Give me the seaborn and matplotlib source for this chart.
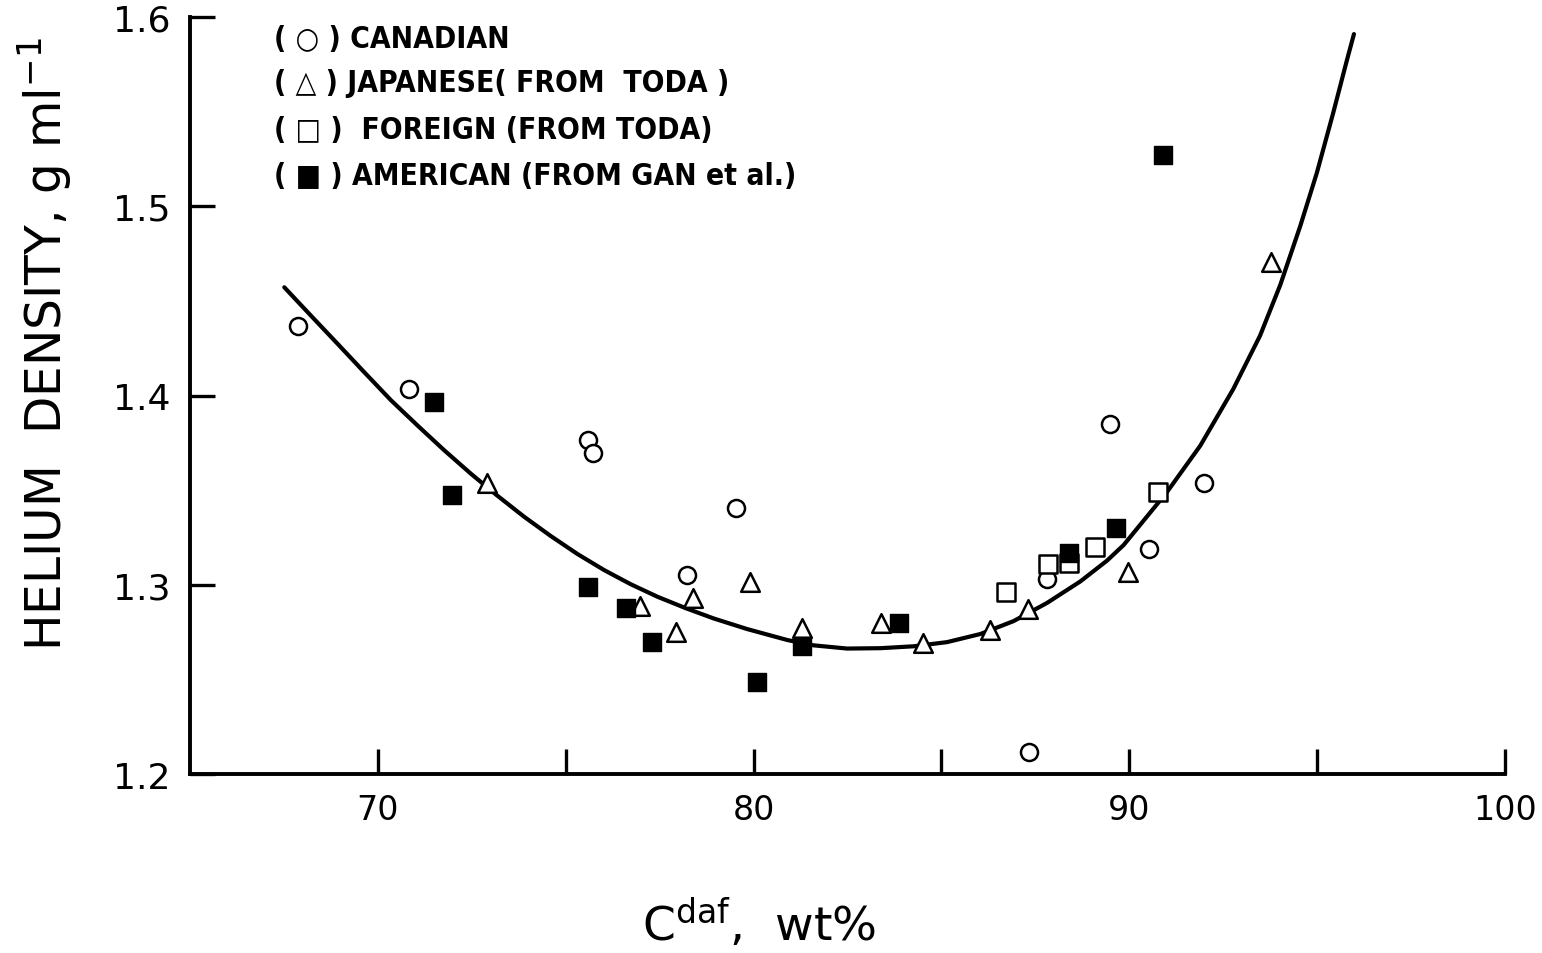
import matplotlib
matplotlib.use("Agg")
import matplotlib.pyplot as plt
import seaborn as sns

# ---- data ----
canadian_x = [67.87, 70.82, 75.60, 75.74, 78.24, 79.52, 87.34, 87.82, 89.50, 90.53, 92.00]
canadian_y = [1.437, 1.4035, 1.3767, 1.3694, 1.3052, 1.3406, 1.2117, 1.303, 1.385, 1.319, 1.354]

japanese_x = [72.90, 76.97, 77.93, 78.38, 79.90, 81.30, 83.38, 84.52, 86.30, 87.31, 89.97, 93.78]
japanese_y = [1.354, 1.289, 1.2748, 1.293, 1.3015, 1.2774, 1.280, 1.269, 1.276, 1.287, 1.307, 1.4706]

foreign_x = [86.73, 87.85, 88.40, 89.10, 90.77]
foreign_y = [1.296, 1.311, 1.3116, 1.320, 1.349]

american_x = [71.49, 71.97, 75.60, 76.60, 77.31, 80.08, 81.30, 83.86, 88.40, 89.65, 90.90]
american_y = [1.3968, 1.3475, 1.2989, 1.2878, 1.270, 1.2487, 1.2677, 1.280, 1.317, 1.330, 1.527]

# fitted curve
curve_x = [67.51, 68.22, 68.93, 69.64, 70.35, 71.06, 71.76, 72.47, 73.18, 73.89, 74.60,
           75.31, 76.02, 76.73, 77.44, 78.20, 78.94, 79.83, 80.90, 81.60, 82.49, 83.38,
           84.26, 85.15, 86.04, 86.92, 87.81, 88.70, 89.41, 89.85, 91.00, 91.89, 92.77,
           93.48, 94.02, 94.55, 94.99, 95.43, 95.79, 95.98]
curve_y = [1.4572, 1.4422, 1.4273, 1.4123, 1.3975, 1.3841, 1.3712, 1.3588, 1.3471, 1.3360,
           1.3258, 1.3163, 1.3078, 1.3003, 1.2937, 1.2876, 1.2822, 1.2766, 1.2708, 1.2680,
           1.2663, 1.2665, 1.2675, 1.2697, 1.2740, 1.2808, 1.2904, 1.3018, 1.3128, 1.3210,
           1.3489, 1.3735, 1.4035, 1.4316, 1.4585, 1.4895, 1.5175, 1.5495, 1.5770, 1.5910]

x_ticks = [70, 75, 80, 85, 90, 95, 100]
x_ticklabels = ["70", "", "80", "", "90", "", "100"]
y_ticks = [1.2, 1.3, 1.4, 1.5, 1.6]
y_ticklabels = ["1.2", "1.3", "1.4", "1.5", "1.6"]

legend_labels = ["( \u25cb ) CANADIAN",
                 "( \u25b3 ) JAPANESE( FROM  TODA )",
                 "( \u25a1 )  FOREIGN (FROM TODA)",
                 "( \u25a0 ) AMERICAN (FROM GAN et al.)"]

# ---- figure ----
sns.set_theme(style="white")
plt.rcParams["font.family"] = ["DejaVu Sans"]

fig = plt.figure(figsize=(15.42, 9.54), dpi=100)
ax = fig.add_axes([0.1232, 0.1876, 0.8528, 0.7935])

sns.lineplot(x=curve_x, y=curve_y, ax=ax, color="black", linewidth=3.0,
             sort=False, estimator=None)

sns.scatterplot(x=canadian_x, y=canadian_y, ax=ax, marker="o", s=150,
                color="white", edgecolor="black", linewidth=1.8, zorder=3)
sns.scatterplot(x=japanese_x, y=japanese_y, ax=ax, marker="^", s=180,
                color="white", edgecolor="black", linewidth=1.8, zorder=3)
sns.scatterplot(x=foreign_x, y=foreign_y, ax=ax, marker="s", s=150,
                color="white", edgecolor="black", linewidth=1.8, zorder=3)
sns.scatterplot(x=american_x, y=american_y, ax=ax, marker="s", s=170,
                color="black", edgecolor="black", linewidth=1.0, zorder=3)

ax.set_xlim(65, 100)
ax.set_ylim(1.2, 1.6)
ax.set_xticks(x_ticks)
ax.set_xticklabels(x_ticklabels, fontsize=24)
ax.set_yticks(y_ticks)
ax.set_yticklabels(y_ticklabels, fontsize=26)

for side in ["top", "right"]:
    ax.spines[side].set_visible(False)
for side in ["left", "bottom"]:
    ax.spines[side].set_linewidth(2.8)
    ax.spines[side].set_color("black")

ax.tick_params(axis="both", which="major", direction="in", length=18, width=2.4,
               color="black", labelcolor="black", bottom=True, left=True,
               top=False, right=False)
ax.tick_params(axis="x", pad=14)
ax.tick_params(axis="y", pad=14)
ax.grid(False)

ax.set_ylabel("HELIUM  DENSITY, g ml$^{-1}$", fontsize=35, color="black")
ax.yaxis.set_label_coords(-0.088, 0.57)
ax.set_xlabel("C$^{\\mathrm{daf}}$,  wt%", fontsize=34, color="black")
ax.xaxis.set_label_coords(0.433, -0.160)

ys = [0.971, 0.914, 0.852, 0.791]
for lab, yy in zip(legend_labels, ys):
    ax.text(0.064, yy, lab, transform=ax.transAxes, fontsize=21.5,
            fontweight="bold", va="center", ha="left", color="black",
            fontstretch="condensed")

fig.savefig("out.png", dpi=100, facecolor="white")
